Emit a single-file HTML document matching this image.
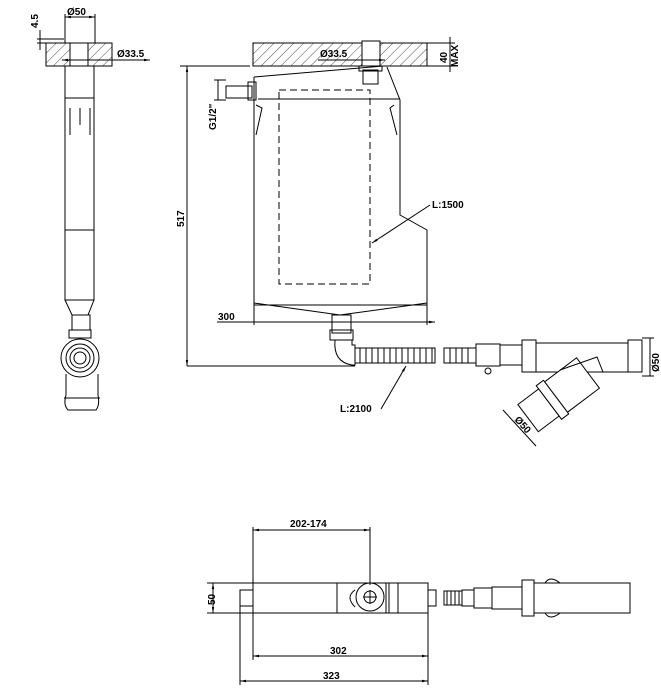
<!DOCTYPE html>
<html><head><style>
html,body{margin:0;padding:0;background:#fff;}
svg{display:block;}
text{font-family:"Liberation Sans",sans-serif;font-weight:bold;font-size:10px;fill:#000;}
</style></head><body>
<svg width="661" height="699" viewBox="0 0 661 699" xmlns="http://www.w3.org/2000/svg">
<defs>
<pattern id="h" width="7" height="7" patternUnits="userSpaceOnUse" patternTransform="rotate(45)">
<line x1="0" y1="0" x2="0" y2="7" stroke="#000" stroke-width="0.7"/>
</pattern>
<marker id="a" viewBox="0 0 10 10" refX="10" refY="5" markerWidth="6" markerHeight="6" orient="auto-start-reverse"><path d="M0,3 L10,5 L0,7z" fill="#000"/></marker>
</defs>
<g fill="none" stroke="#000" stroke-width="1">
<!-- LEFT PROFILE -->
<rect x="46" y="43" width="66" height="23" fill="url(#h)"/>
<rect x="70" y="43" width="18" height="23" fill="#fff"/>
<line x1="37" y1="39" x2="64" y2="39"/><line x1="37" y1="43" x2="46" y2="43"/>
<line x1="40" y1="30" x2="40" y2="50"/>
<line x1="65" y1="17" x2="95" y2="17" marker-start="url(#a)" marker-end="url(#a)"/>
<line x1="65" y1="14" x2="65" y2="43"/><line x1="95" y1="14" x2="95" y2="43"/>
<line x1="62" y1="60" x2="150" y2="60" marker-start="url(#a)" marker-end="url(#a)"/>
<rect x="65" y="66" width="29" height="234"/>
<line x1="65" y1="98" x2="94" y2="98"/><line x1="65" y1="230" x2="94" y2="230"/>
<line x1="70" y1="108" x2="70" y2="135"/><line x1="80" y1="108" x2="80" y2="125"/><line x1="90" y1="108" x2="90" y2="135"/>
<path d="M65,300 L72,315 L88,315 L94,300"/>
<rect x="72" y="315" width="18" height="15"/>
<rect x="69" y="330" width="22" height="8"/>
<circle cx="80" cy="358" r="19"/><circle cx="80" cy="358" r="14"/><circle cx="80" cy="358" r="10"/><circle cx="80" cy="358" r="6"/>
<path d="M66,374 L66,395 Q63,405 68,410 L96,410 Q100,405 98,395 L98,374"/>
<line x1="64" y1="398" x2="100" y2="398"/>
<!-- MAIN TANK -->
<rect x="253" y="43" width="174" height="23" fill="url(#h)"/>
<rect x="362" y="41" width="18" height="25" fill="#fff"/>
<line x1="427" y1="43" x2="455" y2="43"/><line x1="427" y1="66" x2="455" y2="66"/>
<line x1="450" y1="37" x2="450" y2="72"/>
<line x1="318" y1="60" x2="385" y2="60" marker-end="url(#a)"/>
<rect x="363" y="70" width="15" height="14"/><rect x="359" y="66" width="23" height="5"/>
<path d="M254,77 L383,66"/><path d="M387,67 L400,100 L400,215 L427,230 L427,305"/>
<path d="M254,77 L254,305"/>
<line x1="258" y1="99" x2="400" y2="99"/>
<path d="M256,105 L262,108 L256,135"/><path d="M394,105 L390,108 L397,135"/>
<rect x="226" y="86" width="26" height="12"/><line x1="218" y1="80" x2="218" y2="100"/><line x1="214" y1="80" x2="226" y2="80"/><line x1="214" y1="100" x2="226" y2="100"/>
<rect x="248" y="82" width="8" height="18"/>
<path d="M254,303 L340,315 L427,303" />
<line x1="254" y1="305" x2="427" y2="305"/>
<rect x="332" y="315" width="19" height="18"/>
<rect x="330" y="330" width="23" height="10"/>
<path d="M335,340 Q333,362 352,365 L355,365 L355,345 L352,345 L352,340"/>
<line x1="187" y1="366" x2="355" y2="366"/>
<line x1="187" y1="66" x2="187" y2="366" marker-start="url(#a)" marker-end="url(#a)"/>
<line x1="180" y1="66" x2="250" y2="66"/>
<line x1="217" y1="322" x2="435" y2="322" marker-end="url(#a)"/>
<line x1="254" y1="305" x2="254" y2="325"/><line x1="427" y1="305" x2="427" y2="325"/>
<line x1="372" y1="243" x2="430" y2="205" marker-start="url(#a)"/>
<line x1="381" y1="409" x2="406" y2="366" marker-end="url(#a)"/>
</g>
<rect x="279" y="90" width="91" height="194" fill="none" stroke="#000" stroke-dasharray="7,4"/>
<g stroke="#000" fill="none">
<!-- hoses -->
<rect x="355" y="348" width="80" height="15"/>
<path d="M360,348v15M366,348v15M372,348v15M378,348v15M384,348v15M390,348v15M396,348v15M402,348v15M408,348v15M414,348v15M420,348v15M426,348v15M432,348v15"/>
<rect x="444" y="348" width="32" height="15"/>
<path d="M450,348v15M456,348v15M462,348v15M468,348v15"/>
<rect x="476" y="344" width="24" height="22"/><circle cx="488" cy="371" r="3"/>
<rect x="500" y="345" width="22" height="20"/>
<rect x="522" y="340" width="14" height="32"/>
<rect x="536" y="343" width="92" height="29"/>
<rect x="628" y="340" width="14" height="32"/>
<line x1="650" y1="338" x2="650" y2="376"/>
<line x1="642" y1="338" x2="654" y2="338"/><line x1="642" y1="376" x2="654" y2="376"/>
<g transform="translate(588,373) rotate(143)" fill="#fff">
<rect x="0" y="-19" width="40" height="38"/>
<rect x="40" y="-21" width="9" height="42"/>
<rect x="49" y="-17" width="26" height="34"/>
</g>
<path d="M560,370 L597,357 L603,372" fill="none"/>
<line x1="503" y1="410" x2="536" y2="446"/>
<!-- BOTTOM VIEW -->
<rect x="253" y="583" width="175" height="30"/>
<rect x="240" y="590" width="13" height="16"/>
<line x1="337" y1="583" x2="337" y2="613"/><line x1="386" y1="583" x2="386" y2="613"/><line x1="389" y1="583" x2="389" y2="613"/><line x1="398" y1="583" x2="398" y2="613"/>
<circle cx="370" cy="597" r="14"/><circle cx="370" cy="597" r="6"/>
<line x1="363" y1="597" x2="377" y2="597"/><line x1="370" y1="590" x2="370" y2="604"/>
<path d="M355,590 Q345,597 355,607"/>
<rect x="428" y="590" width="8" height="16"/>
<rect x="444" y="591" width="18" height="14"/>
<path d="M447,591v14M451,591v14M455,591v14M459,591v14"/>
<rect x="474" y="588" width="18" height="20"/>
<rect x="462" y="590" width="12" height="16"/>
<rect x="492" y="587" width="30" height="22"/>
<rect x="522" y="580" width="12" height="36"/>
<rect x="534" y="583" width="96" height="30"/>
<path d="M545,583 Q550,575 560,583 M545,613 Q550,621 560,613"/>
<line x1="253" y1="530" x2="370" y2="530" marker-start="url(#a)" marker-end="url(#a)"/>
<line x1="253" y1="527" x2="253" y2="660"/><line x1="370" y1="527" x2="370" y2="585"/>
<line x1="253" y1="656" x2="428" y2="656" marker-start="url(#a)" marker-end="url(#a)"/>
<line x1="240" y1="681" x2="428" y2="681" marker-start="url(#a)" marker-end="url(#a)"/>
<line x1="240" y1="606" x2="240" y2="685"/><line x1="428" y1="613" x2="428" y2="685"/>
<line x1="213" y1="583" x2="213" y2="613" marker-start="url(#a)" marker-end="url(#a)"/>
<line x1="207" y1="583" x2="253" y2="583"/><line x1="207" y1="613" x2="253" y2="613"/>
</g>
<!-- TEXT -->
<text x="67" y="15">Ø50</text>
<text x="117" y="57">Ø33.5</text>
<text transform="translate(38,28) rotate(-90)">4.5</text>
<text x="320" y="57">Ø33.5</text>
<text transform="translate(447,63) rotate(-90)">40</text>
<text transform="translate(458,67) rotate(-90)">MAX</text>
<text transform="translate(216,130) rotate(-90)">G1/2"</text>
<text transform="translate(184,227) rotate(-90)">517</text>
<text x="432" y="208">L:1500</text>
<text x="218" y="320">300</text>
<text x="340" y="412">L:2100</text>
<text transform="translate(659,372) rotate(-90)">Ø50</text>
<text transform="translate(514,420) rotate(48)">Ø50</text>
<text x="290" y="527">202-174</text>
<text x="330" y="654">302</text>
<text x="323" y="679">323</text>
<text transform="translate(215,605) rotate(-90)">50</text>
</svg>
</body></html>
